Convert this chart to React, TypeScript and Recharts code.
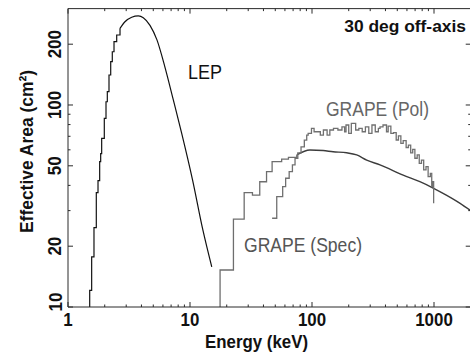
import React from 'react';
import { LineChart, Line, XAxis, YAxis } from 'recharts';

// ---------- data (energy in keV, effective area in cm^2) ----------
const lepStepEnergy = [1.506, 1.506, 1.563, 1.633, 1.706, 1.762, 1.818, 1.853, 1.888, 1.984, 2.049, 2.1, 2.168, 2.239, 2.307, 2.383, 2.507, 2.669];
const lepStepArea = [10, 12.1, 17.7, 24.7, 36.8, 42.2, 52.4, 57.5, 68.4, 85.9, 103.8, 116.4, 140.8, 163.8, 183.5, 205.8, 222.1, 239.7];

const lepSmoothEnergy = [2.669, 2.93, 3.327, 3.77, 4.14, 4.7, 5.36, 6.23, 7.3, 8.55, 10.5, 12.76, 15.08];
const lepSmoothArea = [239.7, 258.4, 271.7, 276, 270.6, 248, 210, 154, 105.9, 72.4, 42.5, 24.0, 15.8];

const specStepEnergy = [17.64, 17.64, 22.7, 27.8, 32.5, 37.3, 42.4, 47.1, 56.4, 64.1, 75];
const specStepArea = [10, 15.25, 27.2, 36.8, 35.8, 41.7, 46.8, 52.4, 53.9, 55.1, 56.6];

const specSmoothEnergy = [75, 96.1, 123.4, 149, 192.5, 232.5, 280.8, 360.8, 559, 766, 993, 1261, 1636, 2000];
const specSmoothArea = [56.6, 59.9, 59.5, 58.7, 58.0, 56.6, 53.4, 50.5, 45.0, 41.7, 38.7, 35.8, 32.6, 30.0];

const polEnergy = [47.1, 51.4, 57.5, 60.8, 65.0, 69.1, 72.6, 76.5, 81.3, 86.5, 90.5, 93, 99, 104, 117, 124, 133, 140, 150, 163, 176, 185, 190, 200, 210, 228, 242, 258, 274, 292, 310, 330, 350, 361, 382, 408, 421, 443, 466, 490, 511, 535, 559, 591, 617, 644, 669, 697, 728, 757, 789, 823, 860, 895, 933, 958, 976, 993];
const polArea = [27.5, 35.2, 39.4, 43.4, 46.8, 50.5, 54.5, 58.0, 62.0, 67.0, 71.0, 72.4, 76.6, 73.7, 71.0, 75.2, 71.0, 75.2, 76.6, 75.2, 78.0, 73.7, 79.6, 72.4, 81.1, 75.2, 76.6, 73.7, 78.0, 72.4, 79.6, 73.7, 76.6, 78.0, 79.6, 73.7, 78.6, 72.4, 73.0, 67.1, 70.3, 64.6, 66.6, 61.6, 63.3, 58.0, 60.3, 54.5, 56.6, 51.4, 53.4, 47.7, 49.5, 44.2, 45.9, 39.4, 41.7, 32.6];

const xTicks = [1, 2, 3, 4, 5, 6, 7, 8, 9, 10, 20, 30, 40, 50, 60, 70, 80, 90, 100, 200, 300, 400, 500, 600, 700, 800, 900, 1000, 2000];
const xMajor = [1, 10, 100, 1000];
const yTicks = [10, 20, 30, 40, 50, 60, 70, 80, 90, 100, 200];
const yMajor = [10, 20, 50, 100, 200];

const xDomain = [1, 2000];
const yDomain = [10, 300];

const rows = (e: number[], a: number[]) => e.map((x, i) => ({ e: x, a: a[i] }));

// ---------- styling ----------
const FONT = '"Liberation Sans", Arial, Helvetica, sans-serif';
const FRAME = '#2a2a2a';
const W = 472;
const H = 354;

const BottomTick = (p: any) => {
  const { x, y, payload } = p;
  const v = payload.value;
  const major = xMajor.includes(v);
  const s = String(v);
  return (
    <g>
      <line x1={x} x2={x} y1={y} y2={y - (major ? 5 : 2.5)} stroke={FRAME} strokeWidth={1} />
      {major && (
        <text x={x} y={y + 18.5} textAnchor="middle" fontFamily={FONT} fontWeight="bold" fontSize={18}
          textLength={s.length * 9.4} lengthAdjust="spacingAndGlyphs" fill="#111">{s}</text>
      )}
    </g>
  );
};

const TopTick = (p: any) => {
  const { x, y, payload } = p;
  const major = xMajor.includes(payload.value);
  return <line x1={x} x2={x} y1={y} y2={y + (major ? 5 : 2.5)} stroke={FRAME} strokeWidth={1} />;
};

const LeftTick = (p: any) => {
  const { x, y, payload } = p;
  const v = payload.value;
  const major = yMajor.includes(v);
  const s = String(v);
  const cy = v === 10 ? y - 5 : y;
  return (
    <g>
      <line x1={x} x2={x + (major ? 5 : 2.5)} y1={y} y2={y} stroke={FRAME} strokeWidth={1} />
      {major && (
        <text x={x - 6.5} y={cy} transform={`rotate(-90 ${x - 6.5} ${cy})`} textAnchor="middle"
          fontFamily={FONT} fontWeight="bold" fontSize={18} textLength={s.length * 9.4}
          lengthAdjust="spacingAndGlyphs" fill="#111">{s}</text>
      )}
    </g>
  );
};

const RightTick = (p: any) => {
  const { x, y, payload } = p;
  const major = yMajor.includes(payload.value);
  return <line x1={x} x2={x - (major ? 5 : 2.5)} y1={y} y2={y} stroke={FRAME} strokeWidth={1} />;
};

export default function App() {
  return (
    <div style={{ position: 'absolute', left: 0, top: 0, width: 470, height: 354, overflow: 'hidden', background: '#fff' }}>
      <LineChart width={W} height={H} margin={{ top: 7.62, right: 0.27, bottom: 46, left: 67 }}>
        <XAxis xAxisId={0} dataKey="e" type="number" scale="log" domain={xDomain} allowDataOverflow
          ticks={xTicks} interval={0} height={1} tickSize={0} tickMargin={0} tick={<BottomTick />}
          axisLine={{ stroke: FRAME, strokeWidth: 1 }} tickLine={false} />
        <XAxis xAxisId="top" orientation="top" dataKey="e" type="number" scale="log" domain={xDomain} allowDataOverflow
          ticks={xTicks} interval={0} height={1} tickSize={0} tickMargin={0} tick={<TopTick />}
          axisLine={{ stroke: FRAME, strokeWidth: 1 }} tickLine={false} />
        <YAxis yAxisId={0} type="number" scale="log" domain={yDomain} allowDataOverflow
          ticks={yTicks} interval={0} width={1} tickSize={0} tickMargin={0} tick={<LeftTick />}
          axisLine={{ stroke: FRAME, strokeWidth: 1 }} tickLine={false} />
        <YAxis yAxisId="right" orientation="right" type="number" scale="log" domain={yDomain} allowDataOverflow
          ticks={yTicks} interval={0} width={1} tickSize={0} tickMargin={0} tick={<RightTick />}
          axisLine={{ stroke: FRAME, strokeWidth: 1 }} tickLine={false} />

        <Line data={rows(lepStepEnergy, lepStepArea)} dataKey="a" type="stepAfter" stroke="#111" strokeWidth={1.2}
          dot={false} activeDot={false} isAnimationActive={false} />
        <Line data={rows(lepSmoothEnergy, lepSmoothArea)} dataKey="a" type="monotone" stroke="#111" strokeWidth={1.2}
          dot={false} activeDot={false} isAnimationActive={false} />
        <Line data={rows(specStepEnergy, specStepArea)} dataKey="a" type="stepAfter" stroke="#6e6e6e" strokeWidth={1.3}
          dot={false} activeDot={false} isAnimationActive={false} />
        <Line data={rows(specSmoothEnergy, specSmoothArea)} dataKey="a" type="monotone" stroke="#3c3c3c" strokeWidth={1.4}
          dot={false} activeDot={false} isAnimationActive={false} />
        <Line data={rows(polEnergy, polArea)} dataKey="a" type="stepAfter" stroke="#707070" strokeWidth={1.3}
          dot={false} activeDot={false} isAnimationActive={false} />

        <g fontFamily={FONT}>
          <text x={188} y={79} fontSize={20} textLength={34} lengthAdjust="spacingAndGlyphs" fill="#111">LEP</text>
          <text x={326} y={116} fontSize={19.5} textLength={103} lengthAdjust="spacingAndGlyphs" fill="#666">GRAPE (Pol)</text>
          <text x={244} y={251.5} fontSize={19.5} textLength={118} lengthAdjust="spacingAndGlyphs" fill="#555">GRAPE (Spec)</text>
          <text x={466} y={31.5} textAnchor="end" fontSize={17.4} fontWeight="bold" fill="#111">30 deg off-axis</text>
          <text x={205} y={348} fontSize={18.5} fontWeight="bold" textLength={103} lengthAdjust="spacingAndGlyphs" fill="#111">Energy (keV)</text>
          <text x={32.5} y={151.5} transform="rotate(-90 32.5 151.5)" textAnchor="middle" fontSize={19} fontWeight="bold"
            textLength={163} lengthAdjust="spacingAndGlyphs" fill="#111">Effective Area (cm²)</text>
        </g>
      </LineChart>
    </div>
  );
}
